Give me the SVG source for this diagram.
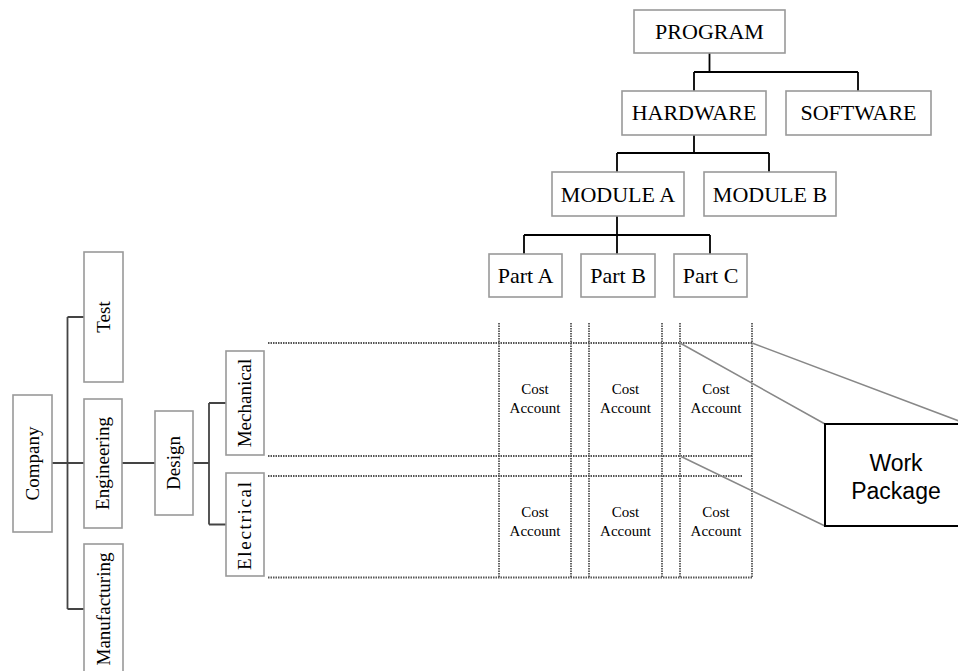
<svg xmlns="http://www.w3.org/2000/svg" width="958" height="671" viewBox="0 0 958 671">
<style>
.bx{fill:#fff;stroke:#999;stroke-width:1.6}
.t{font-family:"Liberation Serif","Times New Roman",serif;fill:#000;text-anchor:middle}
.top{font-size:22px}
.lt{font-size:19px}
.ca{font-size:15px}
.c{fill:none;stroke:#000;stroke-width:1.8}
.cl{fill:none;stroke:#444;stroke-width:1.8}
.dot{fill:none;stroke:#555;stroke-width:1.8;stroke-dasharray:1.5 1}
.dg{fill:none;stroke:#888;stroke-width:1.5}
.wp{fill:#fff;stroke:#000;stroke-width:2}
.ws{font-family:"Liberation Sans",Arial,sans-serif;font-size:23px;fill:#000;text-anchor:middle}
</style>
<rect width="958" height="671" fill="#fff"/>
<g id="connectors">
<path class="c" d="M709.5 53V72M694 72H858M694 72V91M858 72V91"/>
<path class="c" d="M694 135V153M617 153H769M617 153V172M769 153V172"/>
<path class="c" d="M617 216V235M524 235H710M524 235V254M617 235V254M710 235V254"/>
<path class="cl" d="M52 463H84M67.5 317V609M67.5 317H84M67.5 609H84"/>
<path class="cl" d="M122 463H155M193 463H209M209 403V524.5M209 403H226M209 524.5H226"/>
</g>
<g id="grid">
<path class="dot" d="M268 343H752M268 456H752M268 476H743M268 577.5H752"/>
<path class="dot" d="M499 323V578M571 323V578M589 323V578M662 323V578M680 323V578M752 323V578"/>
</g>
<g id="zoom-lines">
<path class="dg" d="M680 343L825 424M752 343L967 424M680 456L825 526"/>
</g>
<g id="program"><rect class="bx" x="634" y="10" width="151" height="43"/><text class="t top" x="709.5" y="39">PROGRAM</text></g>
<g id="hardware"><rect class="bx" x="622" y="91" width="144" height="44"/><text class="t top" x="694" y="120">HARDWARE</text></g>
<g id="software"><rect class="bx" x="786" y="91" width="145" height="44"/><text class="t top" x="858.5" y="120">SOFTWARE</text></g>
<g id="module-a"><rect class="bx" x="552" y="172" width="132" height="44"/><text class="t top" x="618" y="202">MODULE A</text></g>
<g id="module-b"><rect class="bx" x="704" y="172" width="132" height="44"/><text class="t top" x="770" y="202">MODULE B</text></g>
<g id="part-a"><rect class="bx" x="489" y="254" width="73" height="43"/><text class="t top" x="525.5" y="283">Part A</text></g>
<g id="part-b"><rect class="bx" x="581" y="254" width="74" height="43"/><text class="t top" x="618" y="283">Part B</text></g>
<g id="part-c"><rect class="bx" x="674" y="254" width="73" height="43"/><text class="t top" x="710.5" y="283">Part C</text></g>
<g id="company"><rect class="bx" x="13" y="395" width="39" height="137"/><text class="t lt" transform="translate(38.5 463.5) rotate(-90)">Company</text></g>
<g id="test"><rect class="bx" x="84" y="252" width="39" height="130"/><text class="t lt" transform="translate(109.5 317) rotate(-90)">Test</text></g>
<g id="engineering"><rect class="bx" x="84" y="399" width="38" height="129"/><text class="t lt" transform="translate(109 463.5) rotate(-90)">Engineering</text></g>
<g id="manufacturing"><rect class="bx" x="84" y="544" width="39" height="130"/><text class="t lt" transform="translate(109.5 609) rotate(-90)">Manufacturing</text></g>
<g id="design"><rect class="bx" x="155" y="411" width="38" height="104"/><text class="t lt" transform="translate(180 463) rotate(-90)">Design</text></g>
<g id="mechanical"><rect class="bx" x="226" y="351" width="38" height="104"/><text class="t lt" transform="translate(251 403) rotate(-90)">Mechanical</text></g>
<g id="electrical"><rect class="bx" x="226" y="473" width="38" height="103"/><text class="t lt" transform="translate(251 526) rotate(-90)" textLength="88" lengthAdjust="spacing">Electrical</text></g>
<g id="cost-accounts">
<text class="t ca" x="535" y="394">Cost</text><text class="t ca" x="535" y="413">Account</text>
<text class="t ca" x="625.5" y="394">Cost</text><text class="t ca" x="625.5" y="413">Account</text>
<text class="t ca" x="716" y="394">Cost</text><text class="t ca" x="716" y="413">Account</text>
<text class="t ca" x="535" y="517">Cost</text><text class="t ca" x="535" y="536">Account</text>
<text class="t ca" x="625.5" y="517">Cost</text><text class="t ca" x="625.5" y="536">Account</text>
<text class="t ca" x="716" y="517">Cost</text><text class="t ca" x="716" y="536">Account</text>
</g>
<g id="work-package"><rect class="wp" x="825" y="424" width="142" height="102"/><text class="ws" x="896" y="471">Work</text><text class="ws" x="896" y="499">Package</text></g>
</svg>
